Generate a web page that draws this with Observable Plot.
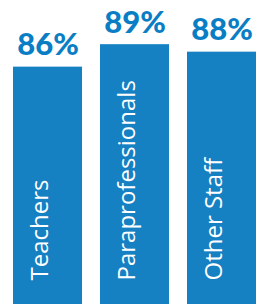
<!DOCTYPE html>
<html>
<head>
<meta charset="utf-8">
<script src="https://cdn.jsdelivr.net/npm/d3@7"></script>
<script src="https://cdn.jsdelivr.net/npm/@observablehq/plot@0.6"></script>
<style>
  html, body { margin: 0; padding: 0; background: #fff; }
  #chart svg { display: block; }
</style>
</head>
<body>
<div id="chart"></div>
<script>
const categories = ["Teachers", "Paraprofessionals", "Other Staff"];
const values = [86, 89, 88];

const data = categories.map((c, i) => ({category: c, value: values[i]}));
const yMin = 54.3, yMax = 94.9;
const barColor = "#1580c2";
const labelColor = "#0a7ec4";

const chart = Plot.plot({
  width: 264,
  height: 305,
  marginTop: 0,
  marginBottom: 1,
  marginLeft: 13,
  marginRight: 8,
  style: {background: "#fff"},
  x: {domain: categories, paddingInner: 0.207, paddingOuter: 0, axis: null},
  y: {domain: [yMin, yMax], axis: null},
  marks: [
    Plot.barY(data, {x: "category", y1: yMin, y2: "value", fill: barColor}),
    Plot.text(data, {
      x: "category", y: "value",
      text: d => d.value + "%",
      lineAnchor: "bottom", dy: -12,
      fill: labelColor,
      fontFamily: "Lato", fontWeight: 900, fontSize: 31
    }),
    Plot.text(data, {
      x: "category", frameAnchor: "bottom",
      text: "category",
      rotate: -90, textAnchor: "start", dy: -24,
      fill: "#fff",
      fontFamily: "Open Sans", fontSize: 24
    })
  ]
});
document.getElementById("chart").appendChild(chart);
</script>
</body>
</html>
